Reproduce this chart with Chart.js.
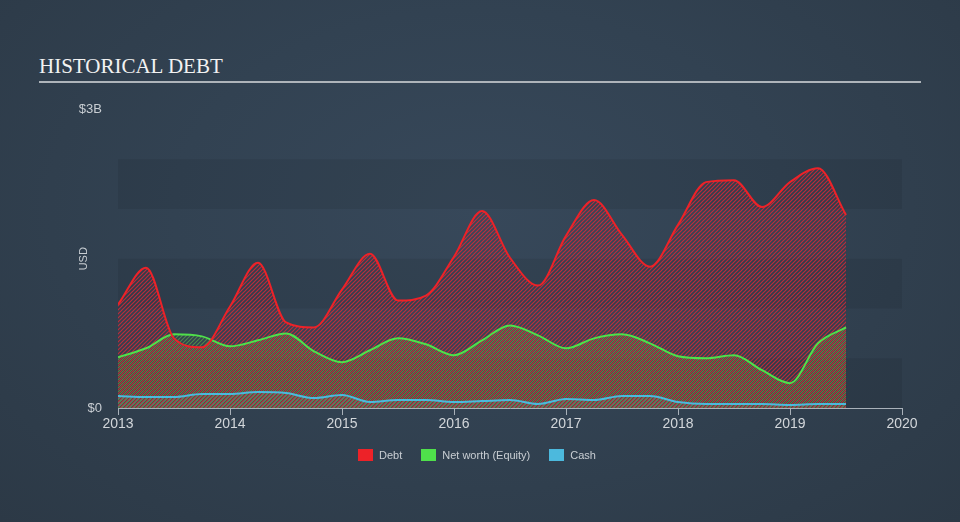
<!DOCTYPE html>
<html>

<head>
    <title>Historical Debt</title>
    <style>
        html, body { margin: 0; padding: 0; }
        body {
            width: 960px; height: 522px; overflow: hidden; position: relative;
            background: radial-gradient(ellipse at 50% 40%, #37485a 0%, #324252 45%, #2c3946 100%);
            font-family: "Liberation Sans", Arial, sans-serif;
        }
        .heading {
            position: absolute; left: 39px; top: 56px; margin: 0;
            font: 21px/1 "Liberation Serif", "Times New Roman", serif;
            color: #f2f2f2; font-weight: normal;
        }
        .rule { position: absolute; left: 39px; top: 81px; width: 882px; height: 2px; background: #aeb4ba; }
        #chartBox { position: absolute; left: 0; top: 0; width: 960px; height: 522px; }
        .legend { position: absolute; left: 358px; top: 449px; display: flex; align-items: center; font-size: 11px; color: #c9ced3; }
        .legend span.box { display: inline-block; width: 15px; height: 12px; margin-right: 6px; }
        .legend .item { display: flex; align-items: center; margin-right: 19px; }
    </style>
</head>

<body>
    <h1 class="heading">HISTORICAL DEBT</h1>
    <div class="rule"></div>
    <div id="chartBox"><canvas id="debtChart" width="960" height="522"></canvas></div>
    <div class="legend">
        <div class="item"><span class="box" style="background:#ed2228"></span>Debt</div>
        <div class="item"><span class="box" style="background:#4fe04b"></span>Net worth (Equity)</div>
        <div class="item"><span class="box" style="background:#4cb9dd"></span>Cash</div>
    </div>

    <script src="https://cdn.jsdelivr.net/npm/chart.js"></script>
    <script>
        // quarterly dates (decimal years), values in $B
        const quarters = [2013, 2013.25, 2013.5, 2013.75, 2014, 2014.25, 2014.5, 2014.75,
            2015, 2015.25, 2015.5, 2015.75, 2016, 2016.25, 2016.5, 2016.75,
            2017, 2017.25, 2017.5, 2017.75, 2018, 2018.25, 2018.5, 2018.75,
            2019, 2019.25, 2019.5];
        const debt = [1.04, 1.41, 0.70, 0.61, 1.02, 1.46, 0.86, 0.81,
            1.19, 1.55, 1.08, 1.13, 1.52, 1.98, 1.51, 1.23,
            1.73, 2.09, 1.74, 1.42, 1.84, 2.27, 2.29, 2.02,
            2.27, 2.41, 1.94];
        const netWorth = [0.51, 0.60, 0.74, 0.72, 0.62, 0.68, 0.75, 0.57,
            0.46, 0.58, 0.70, 0.64, 0.53, 0.68, 0.83, 0.73,
            0.60, 0.70, 0.74, 0.65, 0.52, 0.50, 0.53, 0.38,
            0.25, 0.65, 0.81];
        const cash = [0.12, 0.11, 0.11, 0.14, 0.14, 0.16, 0.15, 0.10,
            0.13, 0.06, 0.08, 0.08, 0.06, 0.07, 0.08, 0.04,
            0.09, 0.08, 0.12, 0.12, 0.06, 0.04, 0.04, 0.04,
            0.03, 0.04, 0.04];
        const yearTicks = [2013, 2014, 2015, 2016, 2017, 2018, 2019, 2020];

        // diagonal stripes, shifted so the series interleave where they overlap
        const hatch = (color, shift) => {
            const c = document.createElement('canvas');
            c.width = 4; c.height = 4;
            const g = c.getContext('2d');
            g.strokeStyle = color;
            g.lineWidth = 1.2;
            g.beginPath();
            for (let k = -8; k <= 8; k += 4) {
                g.moveTo(-2, k + shift + 2); g.lineTo(k + shift + 2, -2);
            }
            g.stroke();
            return g.createPattern(c, 'repeat');
        };

        const toPoints = (vals) => vals.map((v, i) => ({ x: quarters[i], y: v }));

        // alternating bands every 0.5B up to 2.5B
        const bands = {
            id: 'bands',
            beforeDraw(chart) {
                const { ctx, chartArea } = chart;
                const y = chart.scales.y;
                ctx.save();
                ctx.fillStyle = 'rgba(0, 0, 0, 0.07)';
                for (let v = 0; v < 2.5; v += 1) {
                    const top = y.getPixelForValue(v + 0.5);
                    const bottom = y.getPixelForValue(v);
                    ctx.fillRect(chartArea.left, top, chartArea.right - chartArea.left, bottom - top);
                }
                ctx.restore();
            }
        };

        const common = { pointRadius: 0, borderWidth: 2, cubicInterpolationMode: 'monotone', fill: 'origin' };

        new Chart(document.getElementById('debtChart'), {
            type: 'line',
            data: {
                datasets: [
                    { ...common, label: 'Debt', data: toPoints(debt), borderColor: '#ed2228', backgroundColor: hatch('rgba(225, 40, 55, 0.78)', 0) },
                    { ...common, label: 'Net worth (Equity)', data: toPoints(netWorth), borderColor: '#4fe04b', backgroundColor: hatch('rgba(100, 185, 70, 0.6)', 2) },
                    { ...common, label: 'Cash', data: toPoints(cash), borderColor: '#4cb9dd', backgroundColor: hatch('rgba(80, 175, 205, 0.5)', 1) },
                ],
            },
            options: {
                responsive: false,
                animation: false,
                layout: { padding: { left: 70, right: 58, top: 109.5, bottom: 0 } },
                plugins: { legend: { display: false }, tooltip: { enabled: false }, filler: { drawTime: 'beforeDatasetsDraw' } },
                scales: {
                    x: {
                        type: 'linear', min: 2013, max: 2020,
                        afterBuildTicks: (scale) => { scale.ticks = yearTicks.map(v => ({ value: v })); },
                        afterFit: (scale) => { scale.height = 114; },
                        grid: { drawOnChartArea: false, drawTicks: true, tickLength: 7, color: '#a9b1b9' },
                        border: { display: true, color: '#a9b1b9' },
                        ticks: { color: '#d2d6da', font: { size: 14 }, padding: 1, maxRotation: 0, callback: (v) => String(v) },
                    },
                    y: {
                        min: 0, max: 3,
                        afterBuildTicks: (scale) => { scale.ticks = [{ value: 0 }, { value: 3 }]; },
                        afterFit: (scale) => { scale.width = 48; },
                        grid: { display: false },
                        border: { display: false },
                        ticks: { color: '#c9ced3', font: { size: 13 }, padding: 8, callback: (v) => v === 0 ? '$0' : '$' + v + 'B' },
                        title: { display: true, text: 'USD', color: '#c9ced3', font: { size: 11 }, padding: { top: 7, bottom: 0 } },
                    },
                },
            },
            plugins: [bands],
        });
    </script>
</body>

</html>
